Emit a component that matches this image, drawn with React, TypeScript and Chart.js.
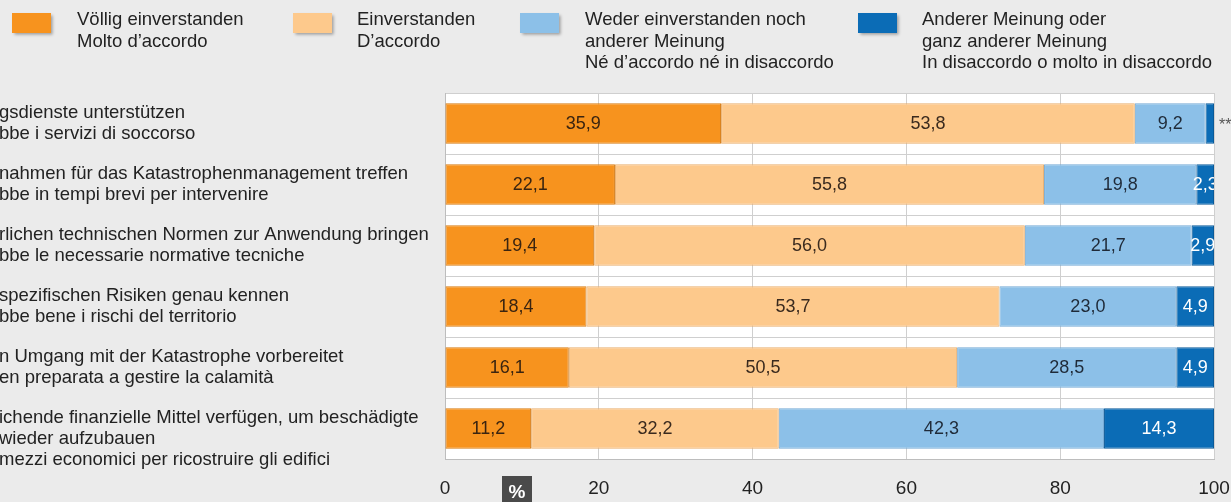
import { useEffect, useRef } from 'react';
import { Chart, registerables } from 'chart.js';

Chart.register(...registerables);

// ---------- data ----------
const categoryLabels: string[][] = [
  ['gsdienste unterstützen', 'bbe i servizi di soccorso'],
  ['nahmen für das Katastrophenmanagement treffen', 'bbe in tempi brevi per intervenire'],
  ['rlichen technischen Normen zur Anwendung bringen', 'bbe le necessarie normative tecniche'],
  ['spezifischen Risiken genau kennen', 'bbe bene i rischi del territorio'],
  ['n Umgang mit der Katastrophe vorbereitet', 'en preparata a gestire la calamità'],
  ['ichende finanzielle Mittel verfügen, um beschädigte', 'wieder aufzubauen', 'mezzi economici per ricostruire gli edifici'],
];

const seriesNames: string[][] = [
  ['Völlig einverstanden', 'Molto d’accordo'],
  ['Einverstanden', 'D’accordo'],
  ['Weder einverstanden noch', 'anderer Meinung', 'Né d’accordo né in disaccordo'],
  ['Anderer Meinung oder', 'ganz anderer Meinung', 'In disaccordo o molto in disaccordo'],
];

const fullyAgree = [35.9, 22.1, 19.4, 18.4, 16.1, 11.2];
const agree = [53.8, 55.8, 56.0, 53.7, 50.5, 32.2];
const neither = [9.2, 19.8, 21.7, 23.0, 28.5, 42.3];
const disagree = [1.1, 2.3, 2.9, 4.9, 4.9, 14.3];

const rowNotes = ['**', '', '', '', '', ''];
const xTickValues = [0, 20, 40, 60, 80, 100];
const unitLabel = '%';

// ---------- styles ----------
const FONT = '"Liberation Sans", Arial, sans-serif';
const TEXT_SIZE = 18.5;
const fillColors = ['#f7931e', '#fdc98c', '#8cc0e8', '#0b6cb6'];
const edgeColors = ['#d67a10', '#e8ae6c', '#74a9d4', '#095a99'];
const valueColors = ['#3a2410', '#3a2a1e', '#1f2a38', '#ffffff'];
const legendSquareX = [12, 293, 520, 858];
const legendTextX = [77, 357, 585, 922];

const fmt = (v: number) => v.toFixed(1).replace('.', ',');

export default function App() {
  const ref = useRef<HTMLCanvasElement | null>(null);

  useEffect(() => {
    if (!ref.current) return;
    const seriesValues = [fullyAgree, agree, neither, disagree];

    const decorPlugin = {
      id: 'decor',
      beforeDraw(chart: any) {
        const { ctx, chartArea: a } = chart;
        ctx.save();
        ctx.fillStyle = '#ffffff';
        ctx.fillRect(a.left, a.top, a.right - a.left, a.bottom - a.top);
        ctx.restore();
      },
      afterDatasetsDraw(chart: any) {
        const { ctx, chartArea: a } = chart;
        ctx.save();
        ctx.beginPath();
        ctx.rect(a.left, a.top, a.right - a.left, a.bottom - a.top);
        ctx.clip();
        ctx.font = `18px ${FONT}`;
        ctx.textAlign = 'center';
        ctx.textBaseline = 'middle';
        chart.data.datasets.forEach((ds: any, di: number) => {
          const meta = chart.getDatasetMeta(di);
          meta.data.forEach((el: any, i: number) => {
            const v = ds.data[i];
            if (v < 2) return;
            const { x, y, base } = el.getProps(['x', 'y', 'base'], true);
            ctx.fillStyle = valueColors[di];
            ctx.fillText(fmt(v), (x + base) / 2, y + 1);
          });
        });
        ctx.restore();
      },
      afterDraw(chart: any) {
        const { ctx, chartArea: a } = chart;
        const yScale = chart.scales.y;
        ctx.save();
        // category labels (top-aligned multi-line)
        ctx.font = `${TEXT_SIZE}px ${FONT}`;
        ctx.fillStyle = '#222222';
        ctx.textAlign = 'left';
        ctx.textBaseline = 'middle';
        categoryLabels.forEach((lines, i) => {
          const yc = yScale.getPixelForValue(i);
          lines.forEach((ln, k) => ctx.fillText(ln, -1, yc - 11 + k * 21));
        });
        // notes right of bars
        ctx.fillStyle = '#555555';
        ctx.font = `16px ${FONT}`;
        rowNotes.forEach((n, i) => {
          if (!n) return;
          ctx.fillText(n, a.right + 5, yScale.getPixelForValue(i) + 2);
        });
        // unit box
        ctx.fillStyle = '#4a4a4a';
        ctx.fillRect(a.left + 57, a.bottom + 17, 30, 30);
        ctx.fillStyle = '#ffffff';
        ctx.font = `bold 19px ${FONT}`;
        ctx.textAlign = 'center';
        ctx.fillText(unitLabel, a.left + 72, a.bottom + 34);
        // legend
        seriesNames.forEach((lines, i) => {
          ctx.save();
          ctx.shadowColor = 'rgba(0,0,0,0.35)';
          ctx.shadowOffsetX = 1.5;
          ctx.shadowOffsetY = 1.5;
          ctx.shadowBlur = 3;
          ctx.fillStyle = fillColors[i];
          ctx.fillRect(legendSquareX[i], 13, 39, 20);
          ctx.restore();
          ctx.fillStyle = '#222222';
          ctx.font = `${TEXT_SIZE}px ${FONT}`;
          ctx.textAlign = 'left';
          ctx.textBaseline = 'middle';
          lines.forEach((ln, k) => ctx.fillText(ln, legendTextX[i], 20 + k * 21.5));
        });
        ctx.restore();
      },
    };

    const chart = new Chart(ref.current, {
      type: 'bar',
      data: {
        labels: categoryLabels.map((l) => l.join(' ')),
        datasets: seriesValues.map((vals, i) => ({
          label: seriesNames[i].join(' '),
          data: vals,
          backgroundColor: fillColors[i],
          borderColor: edgeColors[i],
          borderWidth: 1,
          borderSkipped: false,
          barPercentage: 0.66,
          categoryPercentage: 1,
        })),
      },
      options: {
        indexAxis: 'y',
        animation: false,
        responsive: false,
        maintainAspectRatio: false,
        layout: { padding: { top: 93, right: 0, bottom: 0, left: 0 } },
        plugins: { legend: { display: false }, tooltip: { enabled: false } },
        scales: {
          x: {
            stacked: true,
            min: 0,
            max: 100,
            afterBuildTicks: (s: any) => {
              s.ticks = xTickValues.map((v) => ({ value: v }));
            },
            afterFit: (s: any) => {
              s.height = 43;
              s.paddingRight = 17;
            },
            grid: { color: '#cfcfcf', drawTicks: false },
            border: { color: '#bdbdbd' },
            ticks: {
              padding: 18,
              color: '#222222',
              font: { family: FONT, size: 19 },
            },
          },
          y: {
            stacked: true,
            afterFit: (s: any) => {
              s.width = 445;
            },
            grid: { color: '#cfcfcf', drawTicks: false },
            border: { color: '#bdbdbd' },
            ticks: { display: false },
          },
        },
      },
      plugins: [decorPlugin],
    } as any);
    return () => chart.destroy();
  }, []);

  return (
    <div style={{ position: 'absolute', left: 0, top: 0, width: 1231, height: 502, background: '#ebebeb', overflow: 'hidden' }}>
      <canvas ref={ref} width={1231} height={502} style={{ display: 'block', width: 1231, height: 502 }} />
    </div>
  );
}
